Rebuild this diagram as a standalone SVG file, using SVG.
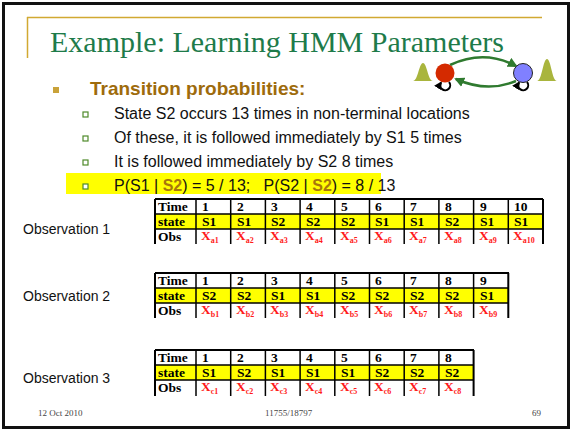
<svg xmlns="http://www.w3.org/2000/svg" width="572" height="431" viewBox="0 0 572 431">
  <style>
    .title { font-family: "Liberation Serif", "Times New Roman", serif; font-size: 30px; fill: #1e7b4a; }
    .head { font-family: "Liberation Sans", Arial, sans-serif; font-size: 19px; font-weight: bold; fill: #9e6b0c; }
    .body { font-family: "Liberation Sans", Arial, sans-serif; font-size: 16px; fill: #111; white-space: pre; }
    .hl { font-weight: bold; fill: #a8760c; }
    .obslabel { font-family: "Liberation Sans", Arial, sans-serif; font-size: 14px; fill: #111; }
    .cell { font-family: "Liberation Serif", "Times New Roman", serif; font-size: 13.5px; font-weight: bold; fill: #000; }
    .x { fill: #ff1a1a; }
    .sub { font-size: 8px; }
    .foot { font-family: "Liberation Serif", "Times New Roman", serif; font-size: 9px; fill: #444; }
    .grid { stroke: #000; stroke-width: 1.5; fill: none; }
    .edge { stroke: #000; stroke-width: 2; fill: none; }
    .ybar { fill: #ffff00; }
    .sq { fill: #fff; stroke: #4f8a2a; stroke-width: 1.2; }
    .arc { stroke: #2f7a2f; stroke-width: 2.5; fill: none; }
    .loop { stroke: #000; stroke-width: 2; fill: none; }
  </style>
  <defs>
    <marker id="ahGreen" viewBox="0 0 10 10" refX="8" refY="5" markerWidth="4" markerHeight="4" orient="auto">
      <path d="M0,0 L10,5 L0,10 Z" fill="#2f7a2f"/>
    </marker>
    <marker id="ahBlack" viewBox="0 0 10 10" refX="8" refY="5" markerWidth="4" markerHeight="4" orient="auto">
      <path d="M0,0 L10,5 L0,10 Z" fill="#000"/>
    </marker>
  </defs>

  <!-- slide background and frame -->
  <rect x="0" y="0" width="572" height="431" fill="#fff"/>
  <rect x="3.5" y="3.5" width="565" height="424" fill="#fff" stroke="#111" stroke-width="3"/>

  <!-- title rule -->
  <g id="title">
    <path d="M27,17.5 H542 M27.5,17 V58" stroke="#d1a932" stroke-width="1.5" fill="none"/>
    <text class="title" x="50" y="52">Example: Learning HMM Parameters</text>
  </g>

  <!-- bullet list -->
  <g id="bullets">
    <rect x="53" y="87" width="6" height="6" fill="#c9a23a"/>
    <text class="head" x="90" y="95">Transition probabilities:</text>
    <rect class="ybar" x="66" y="173" width="315" height="21"/>
    <rect class="sq" x="83" y="112" width="5" height="5"/>
    <rect class="sq" x="83" y="136" width="5" height="5"/>
    <rect class="sq" x="83" y="160" width="5" height="5"/>
    <rect class="sq" x="83" y="184" width="5" height="5"/>
    <text class="body" x="114" y="119">State S2 occurs 13 times in non-terminal locations</text>
    <text class="body" x="114" y="143">Of these, it is followed immediately by S1 5 times</text>
    <text class="body" x="114" y="167">It is followed immediately by S2 8 times</text>
    <text class="body" x="114" y="191">P(S1 | <tspan class="hl">S2</tspan>) = 5 / 13;   P(S2 | <tspan class="hl">S2</tspan>) = 8 / 13</text>
  </g>

  <!-- two-state HMM sketch -->
  <g id="hmm">
    <g id="bell-left">
      <path d="M413,81 C418,81 419,63 423,63 C427,63 428,81 433,81 Z" fill="#a9b53d"/>
    </g>
    <g id="bell-right">
      <path d="M537,81 C542,81 543,59 547,59 C551,59 552,81 557,81 Z" fill="#a9b53d"/>
    </g>
    <g id="connectors">
      <path class="arc" d="M450,65 Q484,49 516,66" marker-end="url(#ahGreen)"/>
      <path class="arc" d="M516,81 Q487,93 456,79" marker-end="url(#ahGreen)"/>
      <path class="loop" d="M449,82 A5,5 0 1 1 441,82.5" marker-end="url(#ahBlack)"/>
      <path class="loop" d="M527,82 A5,5 0 1 1 519,82.5" marker-end="url(#ahBlack)"/>
    </g>
    <g id="node-s1">
      <circle cx="445" cy="73" r="9.5" fill="#d42a00"/>
    </g>
    <g id="node-s2">
      <circle cx="523" cy="73" r="9.5" fill="#8080ff" stroke="#222" stroke-width="1"/>
    </g>
  </g>

  <!-- observation sequence 1 -->
  <g id="observation-1">
    <text class="obslabel" x="23" y="234">Observation 1</text>
    <rect class="ybar" x="155" y="214" width="388" height="15"/>
    <path class="grid" d="M155,214 H543 M155,229 H543 M196,199 V244 M230.7,199 V244 M265.4,199 V244 M300.1,199 V244 M334.8,199 V244 M369.5,199 V244 M404.2,199 V244 M438.9,199 V244 M473.6,199 V244 M508.3,199 V244"/>
    <path class="edge" d="M155,199 H543 M155,199 V244 M543,199 V244"/>
    <text class="cell" x="158" y="211">Time</text>
    <text class="cell" x="158" y="226">state</text>
    <text class="cell" x="158" y="241">Obs</text>
    <text class="cell" y="211"><tspan x="202">1</tspan><tspan x="237">2</tspan><tspan x="271">3</tspan><tspan x="306">4</tspan><tspan x="341">5</tspan><tspan x="375">6</tspan><tspan x="410">7</tspan><tspan x="445">8</tspan><tspan x="480">9</tspan><tspan x="514">10</tspan></text>
    <text class="cell" y="226"><tspan x="202">S1</tspan><tspan x="237">S1</tspan><tspan x="271">S2</tspan><tspan x="306">S2</tspan><tspan x="341">S2</tspan><tspan x="375">S1</tspan><tspan x="410">S1</tspan><tspan x="445">S2</tspan><tspan x="480">S1</tspan><tspan x="514">S1</tspan></text>
    <text class="cell x" x="201" y="240">X<tspan class="sub" dy="3">a1</tspan></text>
    <text class="cell x" x="236" y="240">X<tspan class="sub" dy="3">a2</tspan></text>
    <text class="cell x" x="270" y="240">X<tspan class="sub" dy="3">a3</tspan></text>
    <text class="cell x" x="305" y="240">X<tspan class="sub" dy="3">a4</tspan></text>
    <text class="cell x" x="340" y="240">X<tspan class="sub" dy="3">a5</tspan></text>
    <text class="cell x" x="374" y="240">X<tspan class="sub" dy="3">a6</tspan></text>
    <text class="cell x" x="409" y="240">X<tspan class="sub" dy="3">a7</tspan></text>
    <text class="cell x" x="444" y="240">X<tspan class="sub" dy="3">a8</tspan></text>
    <text class="cell x" x="479" y="240">X<tspan class="sub" dy="3">a9</tspan></text>
    <text class="cell x" x="513" y="240">X<tspan class="sub" dy="3">a10</tspan></text>
  </g>

  <!-- observation sequence 2 -->
  <g id="observation-2">
    <text class="obslabel" x="23" y="301">Observation 2</text>
    <rect class="ybar" x="155" y="288" width="353" height="15"/>
    <path class="grid" d="M155,288 H508 M155,303 H508 M196,273 V318 M230.7,273 V318 M265.4,273 V318 M300.1,273 V318 M334.8,273 V318 M369.5,273 V318 M404.2,273 V318 M438.9,273 V318 M473.6,273 V318"/>
    <path class="edge" d="M155,273 H509 M155,273 V318 M508.3,273 V318"/>
    <text class="cell" x="158" y="285">Time</text>
    <text class="cell" x="158" y="300">state</text>
    <text class="cell" x="158" y="315">Obs</text>
    <text class="cell" y="285"><tspan x="202">1</tspan><tspan x="237">2</tspan><tspan x="271">3</tspan><tspan x="306">4</tspan><tspan x="341">5</tspan><tspan x="375">6</tspan><tspan x="410">7</tspan><tspan x="445">8</tspan><tspan x="480">9</tspan></text>
    <text class="cell" y="300"><tspan x="202">S2</tspan><tspan x="237">S2</tspan><tspan x="271">S1</tspan><tspan x="306">S1</tspan><tspan x="341">S2</tspan><tspan x="375">S2</tspan><tspan x="410">S2</tspan><tspan x="445">S2</tspan><tspan x="480">S1</tspan></text>
    <text class="cell x" x="201" y="314">X<tspan class="sub" dy="3">b1</tspan></text>
    <text class="cell x" x="236" y="314">X<tspan class="sub" dy="3">b2</tspan></text>
    <text class="cell x" x="270" y="314">X<tspan class="sub" dy="3">b3</tspan></text>
    <text class="cell x" x="305" y="314">X<tspan class="sub" dy="3">b4</tspan></text>
    <text class="cell x" x="340" y="314">X<tspan class="sub" dy="3">b5</tspan></text>
    <text class="cell x" x="374" y="314">X<tspan class="sub" dy="3">b6</tspan></text>
    <text class="cell x" x="409" y="314">X<tspan class="sub" dy="3">b7</tspan></text>
    <text class="cell x" x="444" y="314">X<tspan class="sub" dy="3">b8</tspan></text>
    <text class="cell x" x="479" y="314">X<tspan class="sub" dy="3">b9</tspan></text>
  </g>

  <!-- observation sequence 3 -->
  <g id="observation-3">
    <text class="obslabel" x="23" y="383">Observation 3</text>
    <rect class="ybar" x="155" y="365" width="319" height="15"/>
    <path class="grid" d="M155,365 H474 M155,380 H474 M196,350 V396 M230.7,350 V396 M265.4,350 V396 M300.1,350 V396 M334.8,350 V396 M369.5,350 V396 M404.2,350 V396 M438.9,350 V396"/>
    <path class="edge" d="M155,350 H474 M155,350 V396 M473.6,350 V396"/>
    <text class="cell" x="158" y="362">Time</text>
    <text class="cell" x="158" y="377">state</text>
    <text class="cell" x="158" y="392">Obs</text>
    <text class="cell" y="362"><tspan x="202">1</tspan><tspan x="237">2</tspan><tspan x="271">3</tspan><tspan x="306">4</tspan><tspan x="341">5</tspan><tspan x="375">6</tspan><tspan x="410">7</tspan><tspan x="445">8</tspan></text>
    <text class="cell" y="377"><tspan x="202">S1</tspan><tspan x="237">S2</tspan><tspan x="271">S1</tspan><tspan x="306">S1</tspan><tspan x="341">S1</tspan><tspan x="375">S2</tspan><tspan x="410">S2</tspan><tspan x="445">S2</tspan></text>
    <text class="cell x" x="201" y="391">X<tspan class="sub" dy="3">c1</tspan></text>
    <text class="cell x" x="236" y="391">X<tspan class="sub" dy="3">c2</tspan></text>
    <text class="cell x" x="270" y="391">X<tspan class="sub" dy="3">c3</tspan></text>
    <text class="cell x" x="305" y="391">X<tspan class="sub" dy="3">c4</tspan></text>
    <text class="cell x" x="340" y="391">X<tspan class="sub" dy="3">c5</tspan></text>
    <text class="cell x" x="374" y="391">X<tspan class="sub" dy="3">c6</tspan></text>
    <text class="cell x" x="409" y="391">X<tspan class="sub" dy="3">c7</tspan></text>
    <text class="cell x" x="444" y="391">X<tspan class="sub" dy="3">c8</tspan></text>
  </g>

  <!-- footer -->
  <g id="footer">
    <text class="foot" x="38" y="416">12 Oct 2010</text>
    <text class="foot" x="265" y="416">11755/18797</text>
    <text class="foot" x="532" y="416">69</text>
  </g>
</svg>
